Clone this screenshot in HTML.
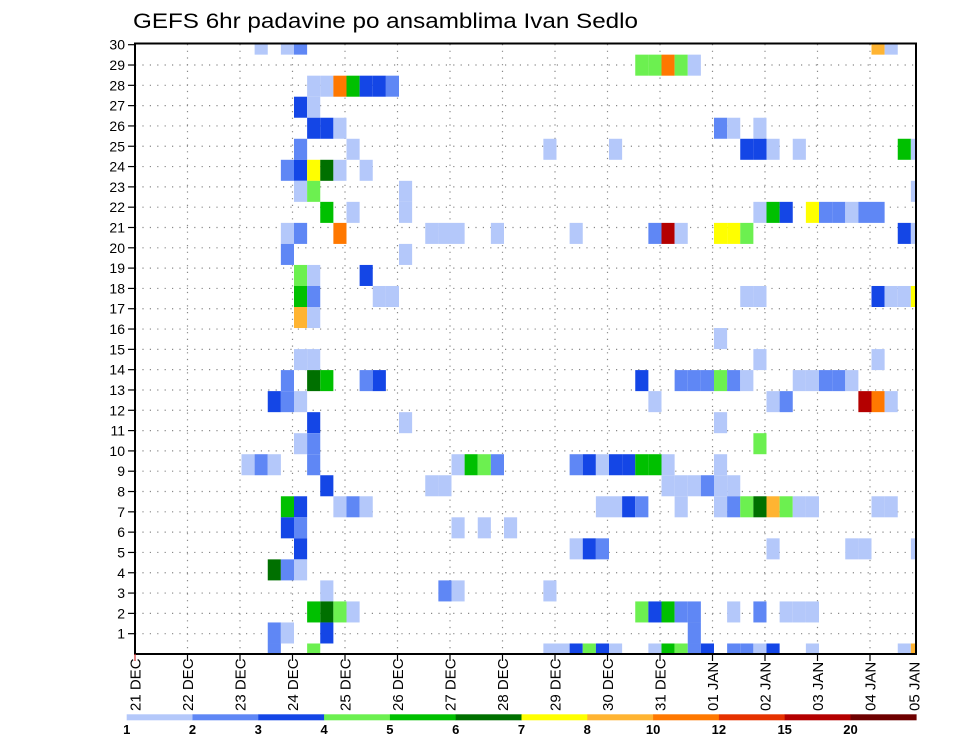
<!DOCTYPE html>
<html><head><meta charset="utf-8"><style>
html,body{margin:0;padding:0;background:#fff;}
svg{display:block;font-family:"Liberation Sans",sans-serif;}
</style></head><body>
<svg id="chart" width="960" height="742" viewBox="0 0 960 742" xmlns="http://www.w3.org/2000/svg">
<text x="133" y="28" font-size="21" textLength="505" lengthAdjust="spacingAndGlyphs" fill="#000">GEFS 6hr padavine po ansamblima Ivan Sedlo</text>
<g id="grid"></g>
<g id="cells"></g>
<rect x="135" y="43.5" width="781" height="610.5" fill="none" stroke="#000" stroke-width="2"/>
<g id="axes"></g>
<g id="legend"></g>
</svg>
<script>
// ---- data ----
const dayLabels = ["21 DEC","22 DEC","23 DEC","24 DEC","25 DEC","26 DEC","27 DEC","28 DEC","29 DEC","30 DEC","31 DEC","01 JAN","02 JAN","03 JAN","04 JAN","05 JAN"];
const memberTicks = [1,2,3,4,5,6,7,8,9,10,11,12,13,14,15,16,17,18,19,20,21,22,23,24,25,26,27,28,29,30];
const levelLabels = ["1","2","3","4","5","6","7","8","10","12","15","20"];
const levelColors = ["#b4c8fa","#5f87f5","#1446e6","#6cf050","#00c000","#007000","#ffff00","#ffb432","#ff7800","#e63200","#b40000","#6e0000"];
// cells: time-step column, ensemble row, colour level (1..12)
const cellCol = [
9,11,12,56,57,
38,39,40,41,42,
13,14,15,16,17,18,19,
12,13,
13,14,15,44,45,47,
12,16,31,36,46,47,48,50,58,59,
11,12,13,14,15,17,
12,13,20,59,
14,16,20,47,48,49,51,52,53,54,55,56,
11,12,15,22,23,24,27,33,39,40,41,44,45,46,58,59,
11,20,
12,13,17,
12,13,18,19,46,47,56,57,58,59,
12,13,
44,
12,13,47,56,
11,13,14,17,18,38,41,42,43,44,45,46,50,51,52,53,54,
10,11,12,39,48,49,55,56,57,
13,20,44,
12,13,47,
8,9,10,13,24,25,26,27,33,34,35,36,37,38,39,40,44,
14,22,23,40,41,42,43,44,45,
11,12,15,16,17,35,36,37,38,41,44,45,46,47,48,49,50,51,56,57,
11,12,24,26,28,
12,33,34,35,48,54,55,59,
10,11,12,
14,23,24,31,
13,14,15,16,38,39,40,41,42,45,47,49,50,51,
10,11,14,42,
10,13,31,32,33,34,35,36,39,40,41,42,43,45,46,47,48,51,58,59];
const cellRow = [
29,29,29,29,29,
28,28,28,28,28,
27,27,27,27,27,27,27,
26,26,
25,25,25,25,25,25,
24,24,24,24,24,24,24,24,24,24,
23,23,23,23,23,23,
22,22,22,22,
21,21,21,21,21,21,21,21,21,21,21,21,
20,20,20,20,20,20,20,20,20,20,20,20,20,20,20,20,
19,19,
18,18,18,
17,17,17,17,17,17,17,17,17,17,
16,16,
15,
14,14,14,14,
13,13,13,13,13,13,13,13,13,13,13,13,13,13,13,13,13,
12,12,12,12,12,12,12,12,12,
11,11,11,
10,10,10,
9,9,9,9,9,9,9,9,9,9,9,9,9,9,9,9,9,
8,8,8,8,8,8,8,8,8,
7,7,7,7,7,7,7,7,7,7,7,7,7,7,7,7,7,7,7,7,
6,6,6,6,6,
5,5,5,5,5,5,5,5,
4,4,4,
3,3,3,3,
2,2,2,2,2,2,2,2,2,2,2,2,2,2,
1,1,1,1,
0,0,0,0,0,0,0,0,0,0,0,0,0,0,0,0,0,0,0,0];
const cellLevel = [
1,1,2,8,1,
4,4,9,4,1,
1,1,9,5,3,3,2,
3,1,
3,3,1,2,1,1,
2,1,1,1,3,3,1,1,5,1,
2,3,7,6,1,1,
1,4,1,1,
5,1,1,1,5,3,7,2,2,1,2,2,
1,2,9,1,1,1,1,1,2,11,1,7,7,4,3,1,
2,1,
4,1,3,
5,2,1,1,1,1,3,1,1,7,
8,1,
1,
1,1,1,1,
2,6,5,2,3,3,2,2,2,4,2,1,1,1,2,2,1,
3,2,1,1,1,2,11,9,1,
3,1,1,
1,2,4,
1,2,1,2,1,5,4,2,2,3,1,3,3,5,5,1,1,
3,1,1,1,1,1,2,1,1,
5,3,1,2,1,1,1,3,2,1,1,2,4,6,8,4,1,1,1,1,
3,2,1,1,1,
3,1,3,2,1,1,1,1,
6,2,1,
1,2,1,1,
5,6,4,1,4,3,5,2,2,1,2,1,1,1,
2,1,3,2,
2,4,1,1,3,4,3,1,1,5,4,2,3,2,2,1,3,1,1,8];

// ---- axis functions ----
const NS="http://www.w3.org/2000/svg";
const PL=135, PR=916, PT=44, PB=654;
const dayX = d => 135 + 52.5*d;
const colX = i => 136.5 + 13.125*i;
const COLW = 13.125;
const rowY = j => 654 - 21.03*j;       // cell centre
const ROWH = 21.03;
const tickY = r => 654 - 20.31*r;
function mk(tag, attrs, parent){const e=document.createElementNS(NS,tag);for(const k in attrs)e.setAttribute(k,attrs[k]);parent.appendChild(e);return e;}

const grid=document.getElementById('grid');
for(let r=1;r<30;r++){
  const l=mk('line',{x1:PL,x2:PR,y1:tickY(r),y2:tickY(r),stroke:'#888','stroke-width':1.2,'stroke-dasharray':'1.2,6.2'},grid);
  
  
}
for(let d=1;d<15;d++){
  const l=mk('line',{x1:dayX(d),x2:dayX(d),y1:PT,y2:PB,stroke:'#888','stroke-width':1.2,'stroke-dasharray':'1.2,5.5'},grid);
  
  
}

const cells=document.getElementById('cells');
for(let k=0;k<cellCol.length;k++){
  let y0=rowY(cellRow[k])-ROWH/2, y1=y0+ROWH;
  y0=Math.max(y0,PT); y1=Math.min(y1,PB);
  const x0=colX(cellCol[k]); const x1=Math.min(x0+COLW,PR);
  const r=mk('rect',{x:x0,y:y0,width:x1-x0,height:y1-y0,fill:levelColors[cellLevel[k]-1]},cells);
  
  
}

const axes=document.getElementById('axes');
memberTicks.forEach(m=>{
  const y=tickY(m);
  const t=mk('line',{x1:128,x2:135,y1:y,y2:y,stroke:'#000','stroke-width':1.2},axes);
  
  
  const tx=mk('text',{x:125,y:y+5,'font-size':14,'text-anchor':'end',fill:'#000'},axes);
  tx.textContent=m;
  
  
});
dayLabels.forEach((lab,d)=>{
  const x = d<15 ? dayX(d) : 914;
  if(d<15){
    const t=mk('line',{x1:x,x2:x,y1:PB,y2:PB+7,stroke:d===0?'#c33':'#000','stroke-width':1.2},axes);
    
    
  }
  const tx=mk('text',{x:0,y:0,'font-size':15,'text-anchor':'end',fill:'#000',transform:`translate(${x+5.5},659) rotate(-90)`},axes);
  tx.textContent=lab.split(' ')[0]+'  '+lab.split(' ')[1];
  tx.setAttribute('text-anchor','start');
  tx.setAttribute('transform',`translate(${x+5.5},711) rotate(-90)`);
  tx.setAttribute('xml:space','preserve');
  
  
});

const leg=document.getElementById('legend');
const LX=126.7, LW=65.8;
levelColors.forEach((c,k)=>{
  const r=mk('rect',{x:LX+k*LW,y:714.3,width:LW+0.3,height:6,fill:c},leg);
  
  
});
levelLabels.forEach((lab,k)=>{
  const t=mk('text',{x:LX+k*LW,y:734,'font-size':13,'font-weight':'bold','text-anchor':'middle',fill:'#000'},leg);
  t.textContent=lab;
  
  
});
</script>
</body></html>
